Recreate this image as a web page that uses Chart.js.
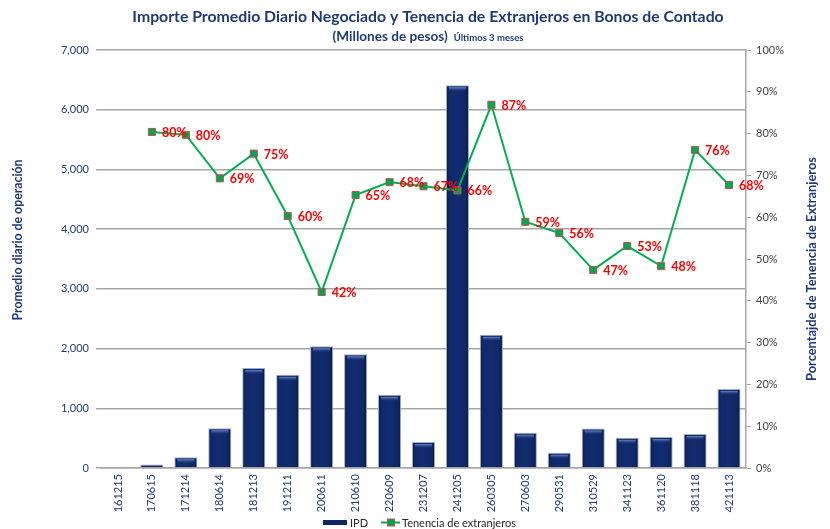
<!DOCTYPE html>
<html><head><meta charset="utf-8">
<script src="https://cdn.jsdelivr.net/npm/chart.js@4/dist/chart.umd.min.js"></script>
<style>html,body{margin:0;padding:0;background:#fff}#wrap{width:830px;height:529px}</style>
</head><body><div id="wrap"><canvas id="c" width="830" height="529"></canvas></div>
<script>
const categories = ['161215','170615','171214','180614','181213','191211','200611','210610','220609','231207','241205','260305','270603','290531','310529','341123','361120','381118','421113'];
const ipd = [0, 60, 180, 665, 1675, 1560, 2040, 1905, 1225, 435, 6410, 2230, 590, 255, 660, 505, 520, 570, 1325];
const tenencia = [null, 80.4, 79.7, 69.3, 75.2, 60.3, 42.1, 65.3, 68.4, 67.4, 66.4, 86.9, 58.9, 56.2, 47.4, 53.1, 48.3, 76.1, 67.7];
const leftTicks = [0, 1000, 2000, 3000, 4000, 5000, 6000, 7000];
const rightTicks = [0, 10, 20, 30, 40, 50, 60, 70, 80, 90, 100];
const chartTitle = 'Importe Promedio Diario Negociado y Tenencia de Extranjeros en Bonos de Contado';
const subtitleMain = '(Millones de pesos)';
const subtitleSmall = 'Últimos 3 meses';
const leftAxisTitle = 'Promedio diario de operación';
const rightAxisTitle = 'Porcentajde de Tenencia de Extranjeros';
const legendBar = 'IPD';
const legendLine = 'Tenencia de extranjeros';

const FONT = 'Lato, "Open Sans", sans-serif';
const NAVY = '#1F3A7A';
const BAR = '#0E2663';
const GREEN = '#00B050';
const BAR_FRACTION = 0.8 * 0.85;

function barFill(context) {
  const chart = context.chart;
  const xs = chart.scales.x;
  if (!xs || context.dataIndex === undefined) return BAR;
  const cx = xs.getPixelForValue(context.dataIndex);
  const half = (xs.width / categories.length) * BAR_FRACTION / 2;
  if (!isFinite(cx) || !isFinite(half) || half <= 0) return BAR;
  const g = chart.ctx.createLinearGradient(cx - half, 0, cx + half, 0);
  g.addColorStop(0, '#0A1B48');
  g.addColorStop(0.15, '#10296A');
  g.addColorStop(0.5, '#122C70');
  g.addColorStop(0.85, '#0F2765');
  g.addColorStop(1, '#081640');
  return g;
}

const decor = {
  id: 'decor',
  afterDatasetDraw(chart, args) {
    if (args.index !== 0) return;
    const ctx = chart.ctx;
    ctx.save();
    args.meta.data.forEach((bar, i) => {
      if (!ipd[i]) return;
      const w = bar.width;
      const h = Math.abs(bar.base - bar.y);
      if (h < 8) return;
      const g = ctx.createLinearGradient(0, bar.y + 2, 0, bar.y + 6);
      g.addColorStop(0, 'rgba(120,150,210,0.85)');
      g.addColorStop(1, 'rgba(40,70,140,0.0)');
      ctx.fillStyle = g;
      ctx.fillRect(bar.x - w / 2 + 3, bar.y + 2, w - 6, 4);
    });
    ctx.restore();
  },
  afterDatasetsDraw(chart) {
    const ctx = chart.ctx;
    const meta = chart.getDatasetMeta(1);
    ctx.save();
    ctx.fillStyle = '#FF0000';
    ctx.font = 'bold 12.5px ' + FONT;
    ctx.textAlign = 'left';
    ctx.textBaseline = 'middle';
    meta.data.forEach((pt, i) => {
      const v = tenencia[i];
      if (v === null || v === undefined) return;
      ctx.fillText(Math.round(v) + '%', pt.x + 10, pt.y + 1);
    });
    ctx.restore();
  },
  afterDraw(chart) {
    const ctx = chart.ctx;
    ctx.save();
    ctx.fillStyle = NAVY;
    ctx.textAlign = 'center';
    ctx.textBaseline = 'middle';
    ctx.font = 'bold 15.8px ' + FONT;
    ctx.fillText(chartTitle, 428, 17);
    ctx.font = 'bold 13.6px ' + FONT;
    const w1 = ctx.measureText(subtitleMain).width;
    ctx.font = 'bold 9.5px ' + FONT;
    const w2 = ctx.measureText(subtitleSmall).width;
    const gap = 6;
    const sx = 428 - (w1 + gap + w2) / 2;
    ctx.textAlign = 'left';
    ctx.font = 'bold 13.6px ' + FONT;
    ctx.fillText(subtitleMain, sx, 37);
    ctx.font = 'bold 9.5px ' + FONT;
    ctx.fillText(subtitleSmall, sx + w1 + gap, 38);
    ctx.textAlign = 'center';
    ctx.save();
    ctx.font = 'bold 12.3px ' + FONT;
    ctx.translate(18, 240);
    ctx.rotate(-Math.PI / 2);
    ctx.fillText(leftAxisTitle, 0, 0);
    ctx.restore();
    ctx.save();
    ctx.font = 'bold 12.8px ' + FONT;
    ctx.translate(812, 269);
    ctx.rotate(-Math.PI / 2);
    ctx.fillText(rightAxisTitle, 0, 0);
    ctx.restore();
    const ly = 522.5;
    ctx.fillStyle = BAR;
    ctx.fillRect(323, ly - 2.5, 24, 5);
    ctx.fillStyle = '#262626';
    ctx.font = '11px ' + FONT;
    ctx.textAlign = 'left';
    ctx.fillText(legendBar, 350, ly + 1);
    ctx.strokeStyle = GREEN;
    ctx.lineWidth = 2;
    ctx.beginPath();
    ctx.moveTo(381, ly);
    ctx.lineTo(400, ly);
    ctx.stroke();
    ctx.fillStyle = '#00A651';
    ctx.fillRect(387.5, ly - 3.5, 7, 7);
    ctx.strokeStyle = '#C0504D';
    ctx.lineWidth = 1;
    ctx.strokeRect(387.5, ly - 3.5, 7, 7);
    ctx.fillStyle = '#262626';
    ctx.fillText(legendLine, 402, ly + 1);
    ctx.restore();
  }
};

new Chart(document.getElementById('c'), {
  data: {
    labels: categories,
    datasets: [
      {
        type: 'bar',
        label: legendBar,
        data: ipd,
        yAxisID: 'y',
        backgroundColor: barFill,
        borderColor: '#A3ADC2',
        borderWidth: 1,
        categoryPercentage: 0.8,
        barPercentage: 0.85,
        order: 1
      },
      {
        type: 'line',
        label: legendLine,
        data: tenencia,
        yAxisID: 'y1',
        borderColor: GREEN,
        borderWidth: 2,
        pointStyle: 'rect',
        pointRadius: 5,
        pointBackgroundColor: '#00A651',
        pointBorderColor: '#C0504D',
        pointBorderWidth: 1,
        spanGaps: false,
        tension: 0,
        order: 0
      }
    ]
  },
  options: {
    responsive: false,
    devicePixelRatio: 1,
    animation: false,
    layout: { padding: { top: 50, bottom: 11, left: 0, right: 0 } },
    plugins: { legend: { display: false }, title: { display: false }, tooltip: { enabled: false } },
    scales: {
      x: {
        offset: true,
        grid: { display: false, drawTicks: false, tickLength: 0 },
        border: { display: true, color: '#A6A6A6', width: 1.5 },
        ticks: { minRotation: 90, maxRotation: 90, color: NAVY, font: { family: FONT, size: 11 }, padding: 6, autoSkip: false },
        afterFit: s => { s.height = 50; }
      },
      y: {
        position: 'left',
        min: 0, max: 7000,
        afterBuildTicks: s => { s.ticks = leftTicks.map(v => ({ value: v })); },
        ticks: { callback: v => v.toLocaleString('en-US'), color: NAVY, font: { family: FONT, size: 11 }, padding: 7 },
        grid: { color: '#A6A6A6', lineWidth: 1.5, tickLength: 5 },
        border: { display: false },
        afterFit: s => { s.width = 101; }
      },
      y1: {
        position: 'right',
        min: 0, max: 100,
        afterBuildTicks: s => { s.ticks = rightTicks.map(v => ({ value: v })); },
        ticks: { callback: v => v + '%', color: '#404040', font: { family: FONT, size: 11 }, padding: 5 },
        grid: { drawOnChartArea: false, color: '#A6A6A6', lineWidth: 1, tickLength: 5 },
        border: { display: true, color: '#A6A6A6', width: 1.5 },
        afterFit: s => { s.width = 84; }
      }
    }
  },
  plugins: [decor]
});
</script></body></html>
